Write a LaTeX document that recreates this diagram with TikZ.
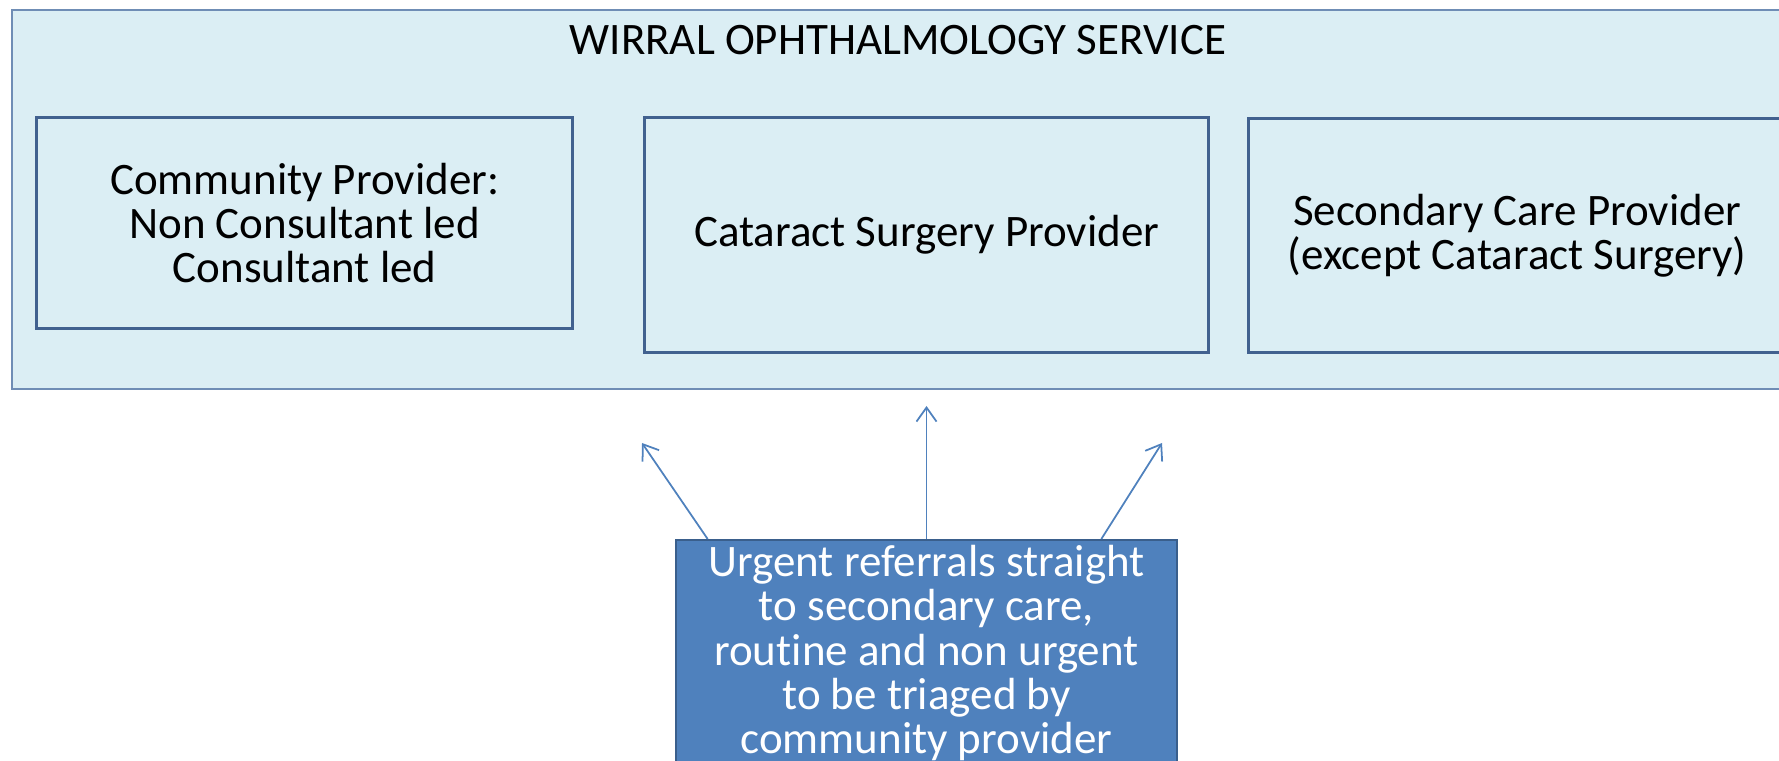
\documentclass[tikz,border=0pt]{standalone}
\usepackage{fontspec}
\setmainfont{Carlito}[Ligatures=NoCommon]
\usetikzlibrary{arrows.meta}
\definecolor{paleblue}{HTML}{DBEEF4}
\definecolor{boxline}{HTML}{41618F}
\definecolor{outerline}{HTML}{6F8DB5}
\definecolor{darkfill}{HTML}{4F81BD}
\definecolor{darkline}{HTML}{3A5F8C}
\definecolor{arrowblue}{HTML}{4F81BD}
\begin{document}
\begin{tikzpicture}[x=0.01cm,y=-0.01cm,
    txt/.style={font=\fontsize{12.8}{12.6}\selectfont},
    provider/.style={txt,draw=boxline,line width=0.85pt,align=center,inner sep=0pt,anchor=north west},
    referral/.style={->,arrowblue,line width=0.5pt},
    >={Straight Barb[length=4pt,width=5.7pt]}]
  \clip (0,0) rectangle (1779,761);
  \node[draw=outerline,fill=paleblue,line width=0.5pt,inner sep=0pt,anchor=north west,
    minimum width=17.79cm,minimum height=3.79cm] (service) at (11,9) {};
  \node[txt,anchor=base] (title) at (898,55) {WIRRAL OPHTHALMOLOGY SERVICE};
  \node[provider,minimum width=5.36cm,minimum height=2.11cm] (community) at (35,116)
    {Community Provider:\\Non Consultant led\\Consultant led};
  \node[provider,minimum width=5.64cm,minimum height=2.35cm] (cataract) at (643,116)
    {Cataract Surgery Provider};
  \node[provider,minimum width=5.37cm,minimum height=2.34cm] (secondary) at (1247,117)
    {Secondary Care Provider\\(except Cataract Surgery)};
  \node[txt,draw=darkline,fill=darkfill,text=white,line width=0.7pt,align=center,
    anchor=north,minimum width=5.01cm,inner ysep=0.05cm] (urgent) at (926.5,539)
    {Urgent referrals straight\\to secondary care,\\routine and non urgent\\to be triaged by\\community provider};
  \coordinate (tipL) at (642,443);
  \coordinate (tipC) at (926.5,406);
  \coordinate (tipR) at (1162,443);
  \draw[referral] ([xshift=0.33cm]urgent.north west) -- (tipL);
  \draw[referral] (urgent.north) -- (tipC);
  \draw[referral] ([xshift=-0.77cm]urgent.north east) -- (tipR);
\end{tikzpicture}
\end{document}
